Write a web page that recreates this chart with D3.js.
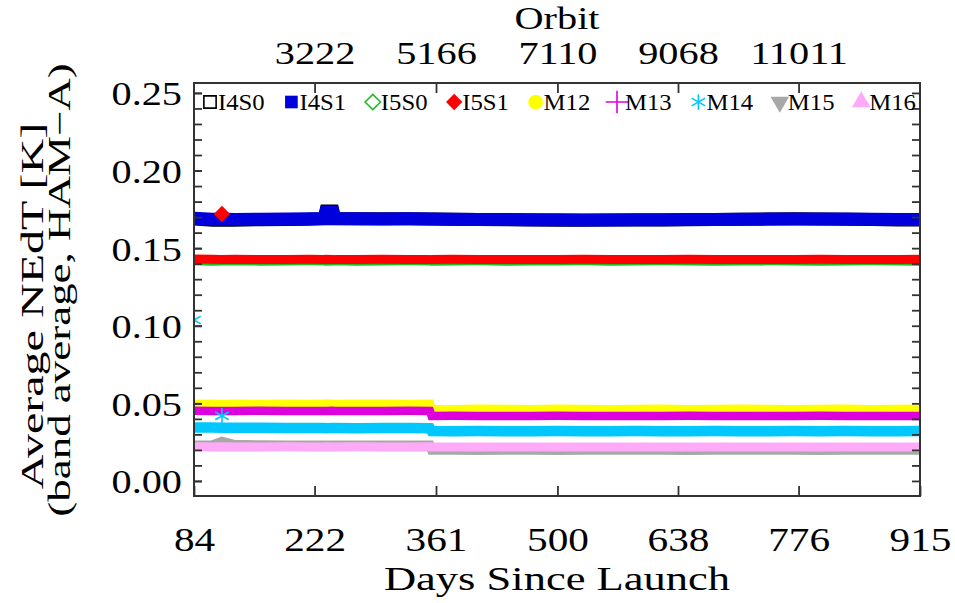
<!DOCTYPE html>
<html>
<head>
<meta charset="utf-8">
<script src="https://cdn.jsdelivr.net/npm/d3@7"></script>
<style>
  body { margin: 0; background: #fff; }
  svg text { font-family: "Liberation Serif", serif; fill: #000; }
</style>
</head>
<body>
<svg id="chart" width="955" height="603"></svg>
<script>
// days since launch for each sample
const days = [84, 105, 116, 130, 160, 190, 215, 233, 235, 243, 245, 270, 300, 330, 354,
  356, 380, 410, 440, 470, 500, 530, 560, 590, 620, 650, 680, 710, 740, 770, 800, 830, 860, 890, 915];

const i4s0 = [0.1688,0.1680,0.1682,0.1680,0.1683,0.1684,0.1686,0.1690,0.1740,0.1740,0.1690,0.1690,0.1689,0.1690,0.1688,
  0.1688,0.1686,0.1684,0.1683,0.1681,0.1680,0.1680,0.1681,0.1682,0.1682,0.1683,0.1685,0.1686,0.1688,0.1689,0.1688,0.1686,0.1684,0.1682,0.1681];
const i4s1 = [0.1692,0.1686,0.1687,0.1685,0.1686,0.1688,0.1689,0.1690,0.1733,0.1733,0.1690,0.1689,0.1688,0.1689,0.1688,
  0.1687,0.1686,0.1685,0.1684,0.1683,0.1683,0.1682,0.1682,0.1683,0.1683,0.1684,0.1685,0.1686,0.1687,0.1688,0.1688,0.1687,0.1686,0.1685,0.1684];
const i5s0 = [0.1418,0.1416,0.1417,0.1418,0.1416,0.1417,0.1418,0.1417,0.1416,0.1417,0.1418,0.1416,0.1417,0.1418,0.1417,
  0.1416,0.1417,0.1418,0.1416,0.1417,0.1417,0.1418,0.1416,0.1417,0.1418,0.1417,0.1416,0.1417,0.1418,0.1417,0.1416,0.1417,0.1418,0.1417,0.1416];
const i5s1 = [0.1430,0.1428,0.1427,0.1428,0.1426,0.1427,0.1428,0.1427,0.1428,0.1427,0.1426,0.1427,0.1428,0.1427,0.1426,
  0.1427,0.1428,0.1427,0.1427,0.1426,0.1427,0.1428,0.1427,0.1426,0.1427,0.1428,0.1427,0.1427,0.1426,0.1427,0.1428,0.1427,0.1426,0.1427,0.1428];
const m12 = [0.0494,0.0496,0.0493,0.0495,0.0494,0.0496,0.0494,0.0495,0.0497,0.0495,0.0494,0.0496,0.0495,0.0494,0.0495,
  0.0462,0.0461,0.0463,0.0462,0.0461,0.0463,0.0462,0.0461,0.0462,0.0463,0.0461,0.0462,0.0463,0.0462,0.0461,0.0462,0.0463,0.0461,0.0462,0.0463];
const m13 = [0.0452,0.0451,0.0450,0.0451,0.0452,0.0451,0.0451,0.0450,0.0451,0.0452,0.0451,0.0450,0.0451,0.0452,0.0451,
  0.0419,0.0420,0.0419,0.0418,0.0419,0.0420,0.0419,0.0419,0.0418,0.0419,0.0420,0.0419,0.0419,0.0418,0.0419,0.0420,0.0419,0.0418,0.0419,0.0419];
const m14 = [0.0345,0.0344,0.0343,0.0342,0.0342,0.0341,0.0341,0.0341,0.0340,0.0341,0.0341,0.0340,0.0341,0.0341,0.0340,
  0.0321,0.0320,0.0321,0.0320,0.0320,0.0321,0.0320,0.0320,0.0321,0.0320,0.0320,0.0321,0.0320,0.0320,0.0321,0.0320,0.0321,0.0320,0.0320,0.0322];
const m15 = [0.0232,0.0234,0.0256,0.0236,0.0233,0.0232,0.0232,0.0231,0.0232,0.0232,0.0231,0.0232,0.0231,0.0232,0.0232,
  0.0197,0.0197,0.0196,0.0197,0.0197,0.0196,0.0197,0.0198,0.0197,0.0197,0.0196,0.0197,0.0197,0.0198,0.0197,0.0196,0.0197,0.0197,0.0198,0.0197];
const m16 = [0.0220,0.0219,0.0220,0.0219,0.0219,0.0220,0.0219,0.0219,0.0220,0.0219,0.0219,0.0220,0.0219,0.0219,0.0220,
  0.0218,0.0219,0.0218,0.0219,0.0218,0.0219,0.0219,0.0218,0.0219,0.0218,0.0219,0.0219,0.0218,0.0219,0.0219,0.0218,0.0219,0.0218,0.0219,0.0219];

const bandNames = ["I4S0", "I4S1", "I5S0", "I5S1", "M12", "M13", "M14", "M15", "M16"];
const bandValues = [i4s0, i4s1, i5s0, i5s1, m12, m13, m14, m15, m16];
const bandColors = ["#000000", "#0000dd", "#22bb22", "#ff0000", "#ffff00", "#dd00dd", "#00c8ff", "#a8a8a8", "#ffaaf8"];
const bandWidths = [13, 13, 9, 9, 9, 8.5, 10.5, 9, 9];

// single stray points drawn as symbols
const outlierBand = ["I5S1", "M14", "M14"];
const outlierDay = [116, 116, 84];
const outlierValue = [0.172, 0.0419, 0.1037];

const dayTicks = [84, 222, 361, 500, 638, 776, 915];
const orbitDays = [222, 361, 500, 638, 776];
const orbitLabels = ["3222", "5166", "7110", "9068", "11011"];
const yTicks = [0, 0.05, 0.10, 0.15, 0.20, 0.25];

const plotL = 194, plotR = 920, plotT = 83, plotB = 496;

const svg = d3.select("#chart");
const x = d3.scaleLinear().domain([84, 915]).range([plotL, plotR]);
const y = d3.scaleLinear().domain([-0.0097, 0.2564]).range([plotB, plotT]);

svg.append("defs").append("clipPath").attr("id", "plot-clip")
  .append("rect").attr("x", plotL).attr("y", plotT).attr("width", plotR - plotL).attr("height", plotB - plotT);

// series as thick bands
const line = d3.line().x((d) => x(d[0])).y((d) => y(d[1]));
const series = svg.append("g").attr("clip-path", "url(#plot-clip)");
bandValues.forEach((vals, i) => {
  series.append("path")
    .attr("d", line(days.map((d, j) => [d, vals[j]])))
    .attr("fill", "none")
    .attr("stroke", bandColors[i])
    .attr("stroke-width", bandWidths[i])
    .attr("stroke-linejoin", "miter");
});

function symbolFor(name) {
  switch (name) {
    case "I4S0": return { type: d3.symbolSquare, size: 150, fill: false };
    case "I4S1": return { type: d3.symbolSquare, size: 160, fill: true };
    case "I5S0": return { type: d3.symbolDiamond2, size: 150, fill: false };
    case "I5S1": return { type: d3.symbolDiamond2, size: 170, fill: true };
    case "M12": return { type: d3.symbolCircle, size: 170, fill: true };
    case "M13": return { type: d3.symbolPlus, size: 170, fill: false };
    case "M14": return { type: d3.symbolAsterisk, size: 170, fill: false };
    case "M15": return { type: d3.symbolTriangle, size: 150, fill: true, flip: true };
    default: return { type: d3.symbolTriangle, size: 150, fill: true };
  }
}

function drawSymbol(g, name, cx, cy) {
  const s = symbolFor(name);
  const col = bandColors[bandNames.indexOf(name)];
  g.append("path")
    .attr("d", d3.symbol(s.type, s.size)())
    .attr("transform", `translate(${cx},${cy})` + (s.flip ? " rotate(180)" : ""))
    .attr("fill", s.fill ? col : "none")
    .attr("stroke", col)
    .attr("stroke-width", s.fill ? 0 : 1.6);
}

outlierBand.forEach((b, i) => drawSymbol(series, b, x(outlierDay[i]), y(outlierValue[i])));

// axes
function stretch(sel, size, sx, xShift) {
  sel.selectAll("text")
    .style("font-size", size + "px")
    .attr("x", xShift / sx)
    .attr("transform", `scale(${sx},1)`);
}

const gb = svg.append("g").attr("transform", `translate(0,${plotB})`)
  .call(d3.axisBottom(x).tickValues(dayTicks).tickFormat(d3.format("d"))
    .tickSizeInner(-10).tickSizeOuter(0).tickPadding(32));
stretch(gb, 33, 1.25, 0);

const gt = svg.append("g").attr("transform", `translate(0,${plotT})`)
  .call(d3.axisTop(x).tickValues(orbitDays).tickFormat((d, i) => orbitLabels[i])
    .tickSizeInner(-10).tickSizeOuter(0).tickPadding(19));
stretch(gt, 31, 1.3, 0);

const gl = svg.append("g").attr("transform", `translate(${plotL},0)`)
  .call(d3.axisLeft(y).tickValues(yTicks).tickFormat(d3.format(".2f"))
    .tickSizeInner(-8).tickSizeOuter(0).tickPadding(12));
stretch(gl, 33, 1.22, -12);
gl.selectAll("text").attr("dy", "0.36em");

svg.append("g").attr("transform", `translate(${plotL},0)`)
  .call(d3.axisLeft(y).tickValues(d3.range(0, 0.2501, 0.01)).tickFormat("").tickSizeInner(-8).tickSizeOuter(0));
svg.append("g").attr("transform", `translate(${plotR},0)`)
  .call(d3.axisRight(y).tickValues(d3.range(0, 0.2501, 0.01)).tickFormat("").tickSizeInner(-8).tickSizeOuter(0));

svg.selectAll(".domain").remove();
svg.selectAll(".tick line").attr("stroke", "#333").attr("stroke-width", 1.8);

svg.append("rect")
  .attr("x", plotL).attr("y", plotT).attr("width", plotR - plotL).attr("height", plotB - plotT)
  .attr("fill", "none").attr("stroke", "#333").attr("stroke-width", 2);

// titles
function label(txt, px, py, size, sx, rot) {
  svg.append("text")
    .attr("transform", `translate(${px},${py})` + (rot ? ` rotate(${rot})` : "") + ` scale(${sx},1)`)
    .attr("text-anchor", "middle")
    .style("font-size", size + "px")
    .text(txt);
}
label("Days Since Launch", (plotL + plotR) / 2, 590, 33, 1.35);
label("Orbit", (plotL + plotR) / 2, 29, 31, 1.3);
label("Average NEdT [K]", 43, 306, 31, 1.55, -90);
label("(band average, HAM\u2212A)", 70, 290, 31, 1.45, -90);

// legend
const legend = svg.append("g");
bandNames.forEach((name, i) => {
  const lx = 210 + i * 81.4;
  drawSymbol(legend, name, lx, 102);
  legend.append("text")
    .attr("transform", `translate(${lx + 8},110) scale(1.03,1)`)
    .style("font-size", "24px")
    .text(name);
});
</script>
</body>
</html>
